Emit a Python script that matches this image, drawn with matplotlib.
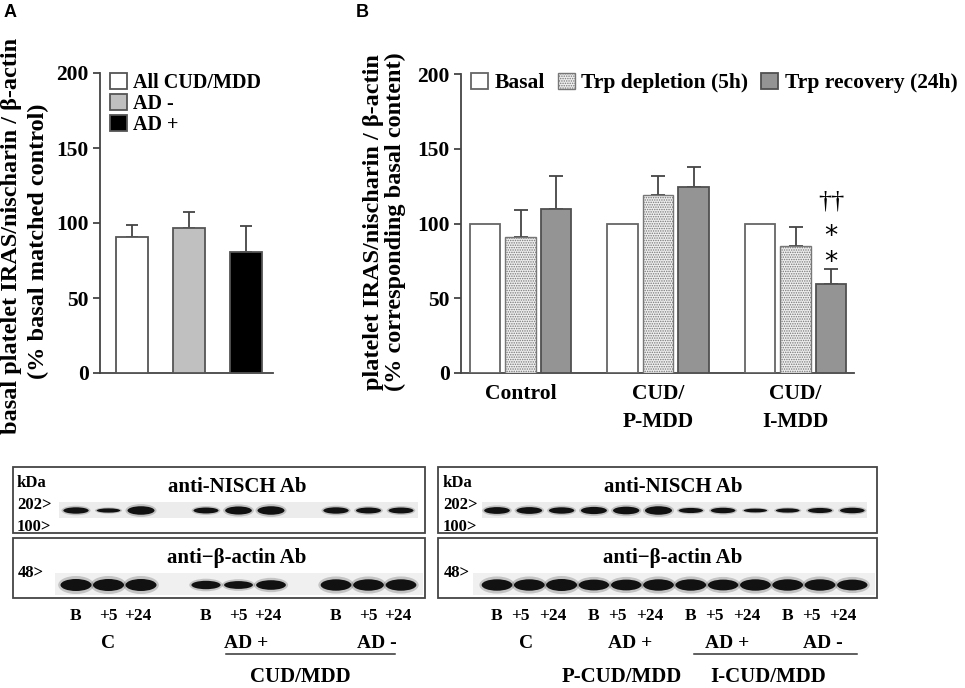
import matplotlib
matplotlib.use('Agg')
import matplotlib.pyplot as plt
from matplotlib.patches import Rectangle, Ellipse
import numpy as np

plt.rcParams['font.family'] = ['Liberation Serif', 'DejaVu Serif']
plt.rcParams['font.weight'] = 'bold'
plt.rcParams['hatch.linewidth'] = 0.7
plt.rcParams['mathtext.default'] = 'regular'

# ---------------- data ----------------
# Panel A
a_labels = ['All CUD/MDD', 'AD -', 'AD +']
a_values = [90.5, 96.5, 80.7]
a_errors = [8.0, 11.0, 17.0]

# Panel B
b_groups = ['Control', 'CUD/\nP-MDD', 'CUD/\nI-MDD']
b_series = ['Basal', 'Trp depletion (5h)', 'Trp recovery (24h)']
b_basal = [100, 100, 100]
b_depl = [91.3, 119.1, 85.1]
b_depl_err = [18.0, 12.9, 12.5]
b_recov = [109.8, 124.4, 59.7]
b_recov_err = [22.2, 13.2, 9.7]

# Western blots (relative band strength)
lane_labels = ['B', '+5', '+24']
left_groups = ['C', 'AD +', 'AD -']
left_nisch = [0.75, 0.5, 1.0, 0.7, 0.95, 1.0, 0.75, 0.7, 0.7]
left_actin = [1.0, 1.0, 1.0, 0.7, 0.65, 0.8, 0.95, 0.95, 0.95]
right_groups = ['C', 'AD +', 'AD +', 'AD -']
right_nisch = [0.8, 0.8, 0.75, 0.85, 0.9, 1.0, 0.6, 0.65, 0.45, 0.5, 0.6, 0.65]
right_actin = [0.95, 0.95, 1.0, 0.9, 0.9, 0.95, 0.95, 0.9, 0.95, 0.95, 0.95, 0.9]

W, H = 965, 688
fig = plt.figure(figsize=(W / 100, H / 100), dpi=100)

# overlay in pixel coordinates for panel letters, labels and blots
ov = fig.add_axes([0, 0, 1, 1], zorder=0)
ov.set_xlim(0, W)
ov.set_ylim(H, 0)
ov.axis('off')

def fax(l, r, t, b):
    return [l / W, 1 - b / H, (r - l) / W, (b - t) / H]

SP = '#444444'
EDGE = '#555555'

def style_axis(ax):
    for s in ['top', 'right']:
        ax.spines[s].set_visible(False)
    for s in ['left', 'bottom']:
        ax.spines[s].set_color(SP)
        ax.spines[s].set_linewidth(1.3)
    ax.set_ylim(0, 200)
    ax.set_yticks([0, 50, 100, 150, 200])
    ax.tick_params(axis='y', direction='out', length=5, width=1.3, color=SP,
                   labelsize=15.5, pad=3)
    ax.patch.set_alpha(0)

# ---------------- Panel A ----------------
axA = fig.add_axes(fax(100, 273, 73, 373), zorder=2)
style_axis(axA)
xa = np.arange(len(a_values))
a_colors = ['white', '#c0c0c0', 'black']
handles = []
for i in range(len(a_values)):
    h = axA.bar(xa[i], a_values[i], width=0.55, color=a_colors[i], edgecolor=EDGE,
                linewidth=1.3, label=a_labels[i], zorder=3)
    handles.append(h)
axA.errorbar(xa, a_values, yerr=[np.zeros(3), a_errors], fmt='none', ecolor=SP,
             elinewidth=1.3, capsize=4.5, capthick=1.3, zorder=2)
axA.set_xlim(-0.561, 2.474)
axA.set_xticks([])
axA.legend(handles=handles, loc='upper left', bbox_to_anchor=(0.058, 1.0),
           frameon=False, fontsize=14.5, handlelength=0.85, handleheight=0.85,
           handletextpad=0.3, labelspacing=0.05, borderpad=0, borderaxespad=0)

# ---------------- Panel B ----------------
axB = fig.add_axes(fax(461, 854, 74, 373), zorder=2)
style_axis(axB)
xb = np.arange(len(b_groups))
off, bw = 0.258, 0.222
hb1 = axB.bar(xb - off, b_basal, width=bw, color='white', edgecolor='#666666',
              linewidth=1.3, label=b_series[0], zorder=3)
hb2 = axB.bar(xb, b_depl, width=bw, color='#eeeeee', edgecolor='#777777',
              hatch='.......', linewidth=1.0, label=b_series[1], zorder=3)
hb3 = axB.bar(xb + off, b_recov, width=bw, color='#949494', edgecolor='#505050',
              linewidth=1.3, label=b_series[2], zorder=3)
axB.errorbar(xb, b_depl, yerr=[np.zeros(3), b_depl_err], fmt='none', ecolor=SP,
             elinewidth=1.3, capsize=5, capthick=1.3, zorder=2)
axB.errorbar(xb + off, b_recov, yerr=[np.zeros(3), b_recov_err], fmt='none', ecolor=SP,
             elinewidth=1.3, capsize=5, capthick=1.3, zorder=2)
axB.set_xlim(-0.433, 2.425)
axB.set_xticks(xb)
axB.set_xticklabels(b_groups, fontsize=15.5, linespacing=1.55)
axB.tick_params(axis='x', length=0, pad=8)
axB.legend(handles=[hb1, hb2, hb3], loc='upper left', bbox_to_anchor=(0.025, 1.005),
           ncol=3, frameon=False, fontsize=15.5, handlelength=0.79, handleheight=0.79,
           handletextpad=0.3, columnspacing=0.6, borderpad=0, borderaxespad=0)
# significance marks on CUD/I-MDD recovery bar
axB.text(xb[2] + off, 115, '††', ha='center', va='center', fontsize=19,
         fontweight='normal')
axB.text(xb[2] + off, 82, '*\n*', ha='center', va='center', fontsize=19,
         family='DejaVu Sans', fontweight='normal', linespacing=1.0)

# ---------------- labels ----------------
ov.text(4, 4, 'A', ha='left', va='top', fontsize=13, family='Liberation Sans', fontweight='bold')
ov.text(356, 4, 'B', ha='left', va='top', fontsize=13, family='Liberation Sans', fontweight='bold')
ov.text(12, 236, 'basal platelet IRAS/nischarin / β-actin', rotation=90,
        ha='center', va='center', fontsize=17.5)
ov.text(38, 241, '(% basal matched control)', rotation=90,
        ha='center', va='center', fontsize=17.5)
ov.text(373, 222, 'platelet IRAS/nischarin / β-actin', rotation=90,
        ha='center', va='center', fontsize=17.5)
ov.text(395, 222, '(% corresponding basal content)', rotation=90,
        ha='center', va='center', fontsize=17.5)

# ---------------- Western blots ----------------
BOXC = '#444444'

def band(x, y, w, h):
    ov.add_patch(Ellipse((x, y), w * 1.15, h * 1.5, color='#000000', alpha=0.18, lw=0, zorder=3))
    ov.add_patch(Ellipse((x, y), w, h, color='#111111', lw=0, zorder=4))

def blot(x0, x1, lanes, nisch, actin, strip_n, strip_a, kx, tx):
    # boxes
    ov.add_patch(Rectangle((x0, 467), x1 - x0, 65.7, fill=False, ec=BOXC, lw=1.3, zorder=5))
    ov.add_patch(Rectangle((x0, 537.7), x1 - x0, 60, fill=False, ec=BOXC, lw=1.3, zorder=5))
    # background strips
    ov.add_patch(Rectangle((strip_n[0], 502), strip_n[1] - strip_n[0], 16,
                           color='#ececec', lw=0, zorder=2))
    ov.add_patch(Rectangle((strip_a[0], 573), strip_a[1] - strip_a[0], 22,
                           color='#f0f0f0', lw=0, zorder=2))
    for x, s in zip(lanes, nisch):
        band(x, 510.5, 27 * (0.75 + 0.25 * s), 8.5 * s)
    for x, s in zip(lanes, actin):
        band(x, 585, 31 * (0.8 + 0.2 * s), 12 * s)
    ov.text(tx, 487, 'anti-NISCH Ab', ha='center', va='center', fontsize=15)
    ov.text(tx, 558, 'anti\u2212β-actin Ab', ha='center', va='center', fontsize=15)
    ov.text(kx, 483, 'kDa', ha='left', va='center', fontsize=12)
    ov.text(kx, 505, '202>', ha='left', va='center', fontsize=12)
    ov.text(kx, 527, '100>', ha='left', va='center', fontsize=12)
    ov.text(kx + 1, 573, '48>', ha='left', va='center', fontsize=12)

# left blot: 3 groups of 3 lanes with a gap
left_lanes = [76 + 32.5 * (4 * g + k) for g in range(3) for k in range(3)]
blot(13, 425, left_lanes, left_nisch, left_actin, (59, 418), (55, 423), 17, 237)
for i, x in enumerate(left_lanes):
    ov.text(x + [0, 0, -3][i % 3], 616, lane_labels[i % 3], ha='center', va='center', fontsize=12.5)
for g, lab in enumerate(left_groups):
    gx = left_lanes[3 * g + 1] + (0 if g == 0 else 8)
    ov.text(gx, 643, lab, ha='center', va='center', fontsize=14)
ov.plot([left_lanes[3] + 20, left_lanes[8] - 6], [654, 654], color='#333333', lw=1.1)
ov.text(300, 677, 'CUD/MDD', ha='center', va='center', fontsize=15)

# right blot: 4 groups of 3 lanes, continuous
right_lanes = [497 + 32.3 * (3 * g + k) for g in range(4) for k in range(3)]
blot(438, 877, right_lanes, right_nisch, right_actin, (482, 867), (473, 875), 443, 673)
for i, x in enumerate(right_lanes):
    ov.text(x + [0, -9, -9][i % 3], 616, lane_labels[i % 3], ha='center', va='center', fontsize=12.5)
for g, lab in enumerate(right_groups):
    gx = right_lanes[3 * g + 1] + [-3, 4, 4, 3][g]
    ov.text(gx, 643, lab, ha='center', va='center', fontsize=14)
ov.plot([right_lanes[6] + 3, right_lanes[11] + 5], [654, 654], color='#333333', lw=1.1)
ov.text(622, 677, 'P-CUD/MDD', ha='center', va='center', fontsize=15)
ov.text(768, 677, 'I-CUD/MDD', ha='center', va='center', fontsize=15)

fig.savefig('out.png', dpi=100)
